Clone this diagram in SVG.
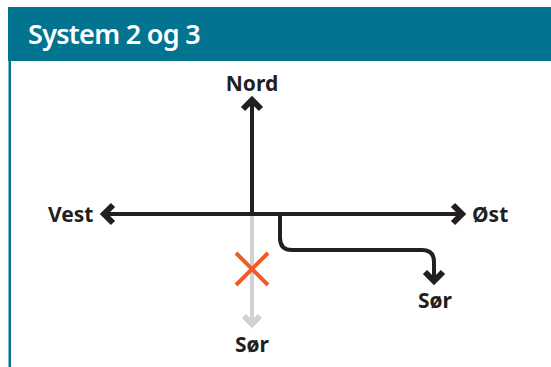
<svg xmlns="http://www.w3.org/2000/svg" width="551" height="367" viewBox="0 0 551 367">
<style>
.lbl{font-family:"Noto Sans","Liberation Sans",sans-serif;font-weight:700;font-size:21px;fill:#231f20}
.title{font-family:"Noto Sans","Liberation Sans",sans-serif;font-weight:600;font-size:27px;letter-spacing:-0.7px;fill:#ffffff}
.blk{fill:none;stroke:#231f20;stroke-width:4}
.head{fill:none;stroke:#231f20;stroke-width:6;stroke-linejoin:miter;stroke-miterlimit:10}
.gray{fill:none;stroke:#d1d2d4;stroke-width:4}
.ghead{fill:none;stroke:#d1d2d4;stroke-width:6;stroke-linejoin:miter;stroke-miterlimit:10}
</style>
<rect width="551" height="367" fill="#ffffff"/>
<g id="header">
<rect x="8" y="7" width="543" height="54" fill="#03748f"/>
<text class="title" x="28" y="44">System 2 og 3</text>
</g>
<rect id="border" x="8.5" y="61" width="2.5" height="306" fill="#03748f"/>
<g id="connectors">
<line class="gray" x1="252" y1="214" x2="252" y2="326"/>
<polyline class="ghead" points="244,316 252,324 260,316"/>
<line class="blk" x1="252" y1="214" x2="252" y2="102"/>
<polyline class="head" points="243,109 252,100 261,109"/>
<line class="blk" x1="106" y1="214" x2="460" y2="214"/>
<polyline class="head" points="113,205 104,214 113,223"/>
<polyline class="head" points="453,205 462,214 453,223"/>
<path class="blk" d="M280,214 V238 Q280,250 292,250 H422 Q434,250 434,262 V279"/>
<polyline class="head" points="425,272 434,281 443,272"/>
</g>
<g id="nord"><text class="lbl" x="252" y="91" text-anchor="middle">Nord</text></g>
<g id="vest"><text class="lbl" x="48" y="222">Vest</text></g>
<g id="ost"><text class="lbl" x="472" y="222">Øst</text></g>
<g id="sor1"><text class="lbl" x="435" y="308" text-anchor="middle">Sør</text></g>
<g id="sor2"><text class="lbl" x="252" y="352" text-anchor="middle">Sør</text></g>
<g id="cross" stroke="#f15a24" stroke-width="4">
<line x1="236" y1="253" x2="268" y2="285"/>
<line x1="268" y1="253" x2="236" y2="285"/>
</g>
</svg>
